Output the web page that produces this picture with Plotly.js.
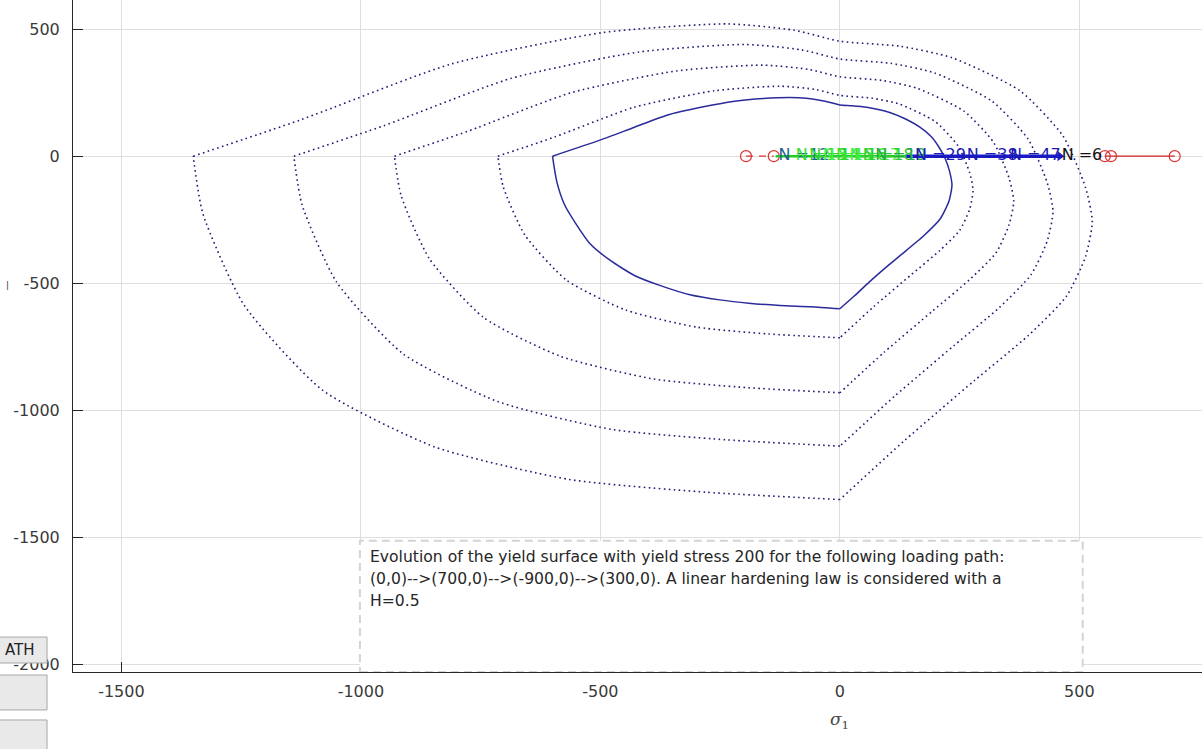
<!DOCTYPE html>
<html>
<head>
<meta charset="utf-8">
<script src="https://cdn.plot.ly/plotly-3.0.1.min.js"></script>
<style>
  html, body { margin: 0; padding: 0; background: #ffffff; }
  #chart { width: 1202px; height: 749px; }
</style>
</head>
<body>
<div id="chart"></div>
<script>
// ---- yield surface (current, solid) ----
const innerX = [-600, -501, -430, -361, -290, -220, -160, -104, -70, -42, -18, 0, 25, 56, 104, 135, 167, 190, 207, 220, 229, 234, 228, 210, 175, 125, 90, 60, 30, 0, -60, -125, -190, -251, -313, -376, -428, -480, -522, -553, -575, -591, -600];
const innerY = [0, 63, 113, 161, 192, 216, 227, 231, 228, 220, 210, 201, 198, 192, 172, 148, 114, 78, 35, -10, -60, -114, -175, -245, -313, -392, -447, -497, -550, -600, -592, -587, -578, -565, -545, -508, -470, -409, -343, -260, -190, -100, 0];

// ---- previous yield surfaces (dotted) ----
const d1X = [-714, -596, -430, -262, -124, -50, 0, 67, 124, 199, 246, 271, 278, 271, 250, 208, 149, 71, 0, -149, -299, -447, -571, -658, -703, -714];
const d1Y = [0, 75, 192, 257, 275, 262, 239, 228, 205, 136, 42, -65, -136, -208, -292, -372, -466, -591, -714, -699, -672, -605, -487, -309, -119, 0];

const d2X = [-930, -777, -560, -341, -161, -65, 0, 87, 161, 259, 321, 353, 363, 353, 326, 271, 194, 93, 0, -194, -389, -583, -744, -857, -916, -930];
const d2Y = [0, 98, 250, 335, 358, 341, 312, 298, 267, 177, 54, -85, -177, -271, -380, -485, -608, -770, -930, -910, -876, -787, -634, -403, -155, 0];

const d3X = [-1140, -952, -686, -418, -198, -80, 0, 106, 198, 317, 393, 433, 445, 433, 399, 333, 238, 114, 0, -238, -477, -714, -912, -1051, -1123, -1140];
const d3Y = [0, 120, 306, 410, 439, 418, 382, 365, 327, 217, 67, -105, -217, -333, -466, -595, -745, -944, -1140, -1115, -1074, -965, -777, -494, -190, 0];

const d4X = [-1350, -1127, -812, -495, -234, -95, 0, 126, 234, 376, 466, 513, 527, 513, 473, 394, 281, 135, 0, -281, -565, -846, -1080, -1244, -1330, -1350];
const d4Y = [0, 142, 362, 486, 520, 495, 452, 432, 387, 257, 79, -124, -257, -394, -551, -704, -882, -1118, -1350, -1321, -1271, -1143, -920, -585, -225, 0];

// ---- loading path ----
const redLeftX = [-196, -138];
const redRightX = [553, 566, 699];
const greenPathX = [-134, 136];
const bluePathX = [136, 459];
const arrowX = [459];

// ---- step labels ----
const labelX = [-128, -92, -64, -36, -8, 20, 48, 74, 157, 265, 355, 463];
const labelText = ['N =12', 'N =13', 'N =14', 'N =15', 'N =16', 'N =17', 'N =18', 'N =19', 'N =29', 'N =38', 'N =47', 'N =6'];
const labelColor = ['#1c5f8f', '#33dd33', '#2fcf2f', '#44ee44', '#33dd33', '#44ee44', '#33cc33', '#2aa84a', '#1a1ab4', '#1a1ab4', '#1a1ab4', '#111111'];

// ---- ticks and notes ----
const xTickVals = [-1500, -1000, -500, 0, 500];
const xTickText = ['-1500', '-1000', '-500', '0', '500'];
const yTickVals = [-2000, -1500, -1000, -500, 0, 500];
const yTickText = ['-2000', '-1500', '-1000', '-500', '0', '500'];
const noteLines = [
  'Evolution of the yield surface with yield stress 200 for the following loading path:',
  '(0,0)-->(700,0)-->(-900,0)-->(300,0). A linear hardening law is considered with a',
  'H=0.5'
];
const xLabel = '<i>σ</i><sub>1</sub>';
const buttonLabel = 'ATH';

const zeros = n => new Array(n).fill(0);
const dotStyle = {color: '#1d1d78', width: 1.6, dash: '1.6px,3.4px', shape: 'spline', smoothing: 0.6};
const solidStyle = {color: '#2b2b9c', width: 1.5, shape: 'spline', smoothing: 0.6};

// split a closed surface at its lower vertex (where x returns to 0 at the bottom)
function surfaceTraces(xs, ys, line) {
  let k = 0, minY = Infinity;
  ys.forEach((v, i) => { if (v < minY) { minY = v; k = i; } });
  return [
    {x: xs.slice(0, k + 1), y: ys.slice(0, k + 1), mode: 'lines', line: line, hoverinfo: 'skip'},
    {x: xs.slice(k), y: ys.slice(k), mode: 'lines', line: line, hoverinfo: 'skip'}
  ];
}

const traces = [].concat(
  surfaceTraces(d1X, d1Y, dotStyle),
  surfaceTraces(d2X, d2Y, dotStyle),
  surfaceTraces(d3X, d3Y, dotStyle),
  surfaceTraces(d4X, d4Y, dotStyle),
  surfaceTraces(innerX, innerY, solidStyle),
  [
    {x: redLeftX, y: zeros(redLeftX.length), mode: 'lines+markers', line: {color: '#dd3333', width: 1.2, dash: '7px,6px'},
     marker: {symbol: 'circle-open', size: 11, color: '#dd3333', line: {width: 1.2}}},
    {x: redRightX, y: zeros(redRightX.length), mode: 'lines+markers', line: {color: '#cc2222', width: 1.2},
     marker: {symbol: 'circle-open', size: 11, color: '#dd3333', line: {width: 1.2}}},
    {x: greenPathX, y: zeros(greenPathX.length), mode: 'lines', line: {color: '#22cc22', width: 2.5}},
    {x: bluePathX, y: zeros(bluePathX.length), mode: 'lines', line: {color: '#1a1ac8', width: 3.5}},
    {x: arrowX, y: zeros(arrowX.length), mode: 'markers', marker: {symbol: 'triangle-right', size: 9, color: '#1a1ac8'}},
    {x: labelX, y: zeros(labelX.length), mode: 'text', text: labelText, textposition: 'middle right',
     textfont: {family: 'DejaVu Sans', size: 16, color: labelColor}, cliponaxis: false}
  ]
);

const axisCommon = {
  showgrid: true, gridcolor: '#dedede', gridwidth: 1,
  zeroline: false, showline: true, linecolor: '#262626', linewidth: 1,
  ticks: 'inside', ticklen: 10, tickcolor: '#262626', tickwidth: 1,
  tickfont: {family: 'DejaVu Sans', size: 16, color: '#3a3a3a'},
  tickmode: 'array'
};

const noteFont = {family: 'DejaVu Sans', size: 15.6, color: '#262626'};

const layout = {
  width: 1202, height: 749,
  margin: {l: 73, r: 0, t: 0, b: 77},
  paper_bgcolor: '#ffffff', plot_bgcolor: '#ffffff',
  showlegend: false,
  xaxis: Object.assign({}, axisCommon, {range: [-1601, 756], tickvals: xTickVals, ticktext: xTickText, ticklabelstandoff: 5}),
  yaxis: Object.assign({}, axisCommon, {range: [-2028, 614], tickvals: yTickVals, ticktext: yTickText, ticklabelstandoff: 9}),
  shapes: [
    {type: 'rect', xref: 'x', yref: 'y', x0: -1002, x1: 507, y0: -2028, y1: -1512,
     fillcolor: '#ffffff', line: {color: '#d4d4d4', width: 2, dash: '8px,5px'}, layer: 'above'},
    {type: 'rect', xref: 'paper', yref: 'paper', x0: -0.07, x1: -0.023, y0: 0.0134, y1: 0.052,
     fillcolor: '#e9e9e9', line: {color: '#a8a8a8', width: 1}, layer: 'above'},
    {type: 'rect', xref: 'paper', yref: 'paper', x0: -0.07, x1: -0.023, y0: -0.0565, y1: -0.0045,
     fillcolor: '#e9e9e9', line: {color: '#a8a8a8', width: 1}, layer: 'above'},
    {type: 'rect', xref: 'paper', yref: 'paper', x0: -0.07, x1: -0.023, y0: -0.13, y1: -0.0714,
     fillcolor: '#e9e9e9', line: {color: '#a8a8a8', width: 1}, layer: 'above'}
  ],
  annotations: [
    {xref: 'x', yref: 'y', x: -985, y: -1575, xanchor: 'left', yanchor: 'middle', showarrow: false,
     text: noteLines[0], font: noteFont},
    {xref: 'x', yref: 'y', x: -985, y: -1661, xanchor: 'left', yanchor: 'middle', showarrow: false,
     text: noteLines[1], font: noteFont},
    {xref: 'x', yref: 'y', x: -985, y: -1748, xanchor: 'left', yanchor: 'middle', showarrow: false,
     text: noteLines[2], font: noteFont},
    {xref: 'x', yref: 'paper', x: 0, y: -0.072, xanchor: 'center', yanchor: 'middle', showarrow: false,
     text: xLabel, font: {family: 'DejaVu Serif', size: 17, color: '#444444'}},
    {xref: 'paper', yref: 'paper', x: -0.062, y: 0.033, xanchor: 'left', yanchor: 'middle', showarrow: false,
     text: buttonLabel, font: {family: 'DejaVu Sans', size: 15, color: '#222222'}},
    {xref: 'paper', yref: 'paper', x: -0.058, y: 0.576, xanchor: 'center', yanchor: 'middle', showarrow: false,
     text: '|', font: {family: 'DejaVu Sans', size: 9, color: '#333333'}}
  ]
};

Plotly.newPlot('chart', traces, layout, {displayModeBar: false, staticPlot: true});
</script>
</body>
</html>
